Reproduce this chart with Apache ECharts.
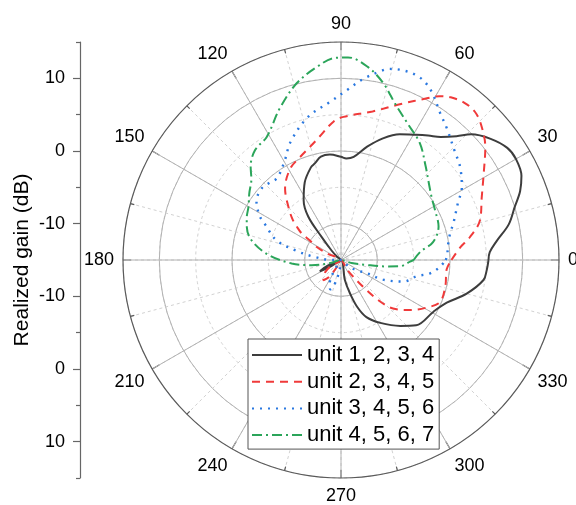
<!DOCTYPE html>
<html>
<head>
<meta charset="utf-8">
<script src="https://cdn.jsdelivr.net/npm/echarts@6/dist/echarts.min.js"></script>
<style>
html,body{margin:0;padding:0;background:#fff;}
#c{width:576px;height:505px;}
</style>
</head>
<body>
<div id="c"></div>
<script>
// ---- data (angle in degrees, realized gain in dB; values below -15 dB sit at the centre) ----
const seriesNames = ['unit 1, 2, 3, 4', 'unit 2, 3, 4, 5', 'unit 3, 4, 5, 6', 'unit 4, 5, 6, 7'];

const unit1234Angle = [0,3,7,12,17,21,25,30,34,39,44,47,51,55,59,65,71,77,83,87,90,96,101,105,108,115,122,127,130,135,140,150,170,195,203,208,212,220,250,275,281,285,289,294,302,312,319,331,338,345,352,356,360];
const unit1234Gain  = [5.3,5.5,6.6,8.6,10.0,11.4,12.4,12.8,12.6,11.5,9.9,8.3,6.8,5.9,5.1,4.1,2.7,1.0,-0.7,-1.0,-0.8,-0.4,-0.5,-1.2,-1.6,-3.2,-5.3,-7.5,-10.8,-13.2,-14.3,-15,-15,-15,-13,-11.7,-13.5,-15,-15,-15,-12.2,-10.3,-8.2,-6.4,-4.8,-2.8,-1.3,-0.4,0.7,2.9,4.8,5.1,5.3];

const unit2345Angle = [0,6,10,16,24,31,38,44,48,52,56,59,62,69,78,89,93,100,105,112,119,128,135,140,143,146,148,151,155,165,200,210,218,229,235,245,255,295,302,306,310,313,317,324,331,337,346,355,360];
const unit2345Gain  = [0.2,1.5,3.0,4.9,6.2,7.9,10.2,11.8,12.5,12.5,12.0,11.3,10.2,8.0,5.9,4.7,4.1,2.2,1.2,0.2,-0.6,-2.5,-4.8,-6.3,-7.4,-8.5,-10.0,-10.8,-12.8,-15,-15,-13.5,-12.2,-11.3,-12.2,-14.5,-15,-15,-13.5,-12.2,-9.8,-7.4,-5.2,-3.3,-1.5,-0.2,-0.2,-0.4,0.2];

const unit3456Angle = [0,2,9,14,18,22,26,31,38,44,51,56,62,67,73,76,78,83,88,94,103,113,120,128,133,138,145,148,152,155,163,168,173,180,190,225,238,245,250,255,262,270,310,320,327,333,335,341,348,351.5,356,360];
const unit3456Gain  = [-0.6,-0.4,-0.05,0.5,1.25,2.0,2.9,4.4,5.8,6.7,8.2,9.4,11.4,12.4,12.4,12.1,11.6,10.1,8.4,6.8,5.2,2.7,0.6,-0.7,-0.5,-0.3,-0.8,-1.4,-2.4,-3.5,-5.7,-8.5,-11.2,-13.8,-15,-15,-13,-11.3,-10.7,-11.5,-13.5,-15,-15,-13.5,-12.4,-11.0,-8.6,-5.9,-4.3,-2.6,-1.35,-0.6];

const unit4567Angle = [0,6,11,19,28,35,42,48,56,64,71,76.5,82,88,92,97,104,112,121,128,134,138,144,150,156,161,168,176,184,190,196,205,335,344,349,352,354,358.6,360];
const unit4567Gain  = [-5.0,-4.0,-2.1,-0.8,-0.35,0.2,1.2,2.4,4.4,5.9,7.8,10.0,11.8,12.9,12.8,11.8,10.1,7.5,4.8,4.2,2.9,1.6,0.6,-0.3,-0.8,-1.3,-2.5,-5.0,-8.2,-10.9,-13.5,-15,-15,-13.5,-11.4,-8.6,-6.8,-5.5,-5.0];

const angleLabelStep = 30;
const gainMin = -15, gainMax = 15;
const leftTickValues = [-25,-15,-5,5,15,25];       // mirrored distance from centre
const leftMinorTickValues = [-30,-20,-10,10,20,30];

// ---- chart ----
const FONT = '"Liberation Sans", Arial, sans-serif';
const CX = 341, CY = 260, R = 218;

function pairs(angles, gains){ return angles.map((a,i)=>[gains[i], a]); }

const seriesData = [
  pairs(unit1234Angle, unit1234Gain),
  pairs(unit2345Angle, unit2345Gain),
  pairs(unit3456Angle, unit3456Gain),
  pairs(unit4567Angle, unit4567Gain)
];
const styles = [
  {color:'#3d3d3d', width:2, type:'solid'},
  {color:'#f03a3a', width:2, type:[8,6]},
  {color:'#2a78e0', width:2.4, type:[2,6]},
  {color:'#2ba55a', width:2, type:[10,4,2,4]}
];

const chart = echarts.init(document.getElementById('c'), null, {renderer:'canvas'});
chart.setOption({
  backgroundColor:'#fff',
  animation:false,
  polar:[
    {center:[CX,CY], radius:R},
    {center:[CX,CY], radius:R}
  ],
  angleAxis:[
    {polarIndex:0, type:'value', min:0, max:360, interval:angleLabelStep/2, startAngle:0, clockwise:false,
     axisLine:{show:false}, axisTick:{show:false}, axisLabel:{show:false},
     splitLine:{show:true, lineStyle:{color:'#d2d2d2', width:1, type:[3,3]}}},
    {polarIndex:1, type:'value', min:0, max:360, interval:angleLabelStep, startAngle:0, clockwise:false,
     axisLine:{show:true, lineStyle:{color:'#5a5a5a', width:1.2}},
     axisTick:{show:true, inside:true, length:8, lineStyle:{color:'#5a5a5a', width:1.2}},
     minorTick:{show:true, splitNumber:2, length:4, lineStyle:{color:'#5a5a5a', width:1.2}},
     axisLabel:{show:true, margin:9, color:'#000', fontSize:18, fontFamily:FONT},
     splitLine:{show:true, lineStyle:{color:'#b2b2b2', width:1}}}
  ],
  radiusAxis:[
    {polarIndex:0, type:'value', min:gainMin, max:gainMax, interval:5,
     axisLine:{show:false}, axisTick:{show:false}, axisLabel:{show:false},
     splitLine:{show:true, lineStyle:{color:'#d2d2d2', width:1, type:[3,3]}}},
    {polarIndex:1, type:'value', min:gainMin, max:gainMax, splitNumber:3,
     axisLine:{show:false}, axisTick:{show:false, customValues:[-10,0,10]}, axisLabel:{show:false},
     splitLine:{show:true, lineStyle:{color:'#b2b2b2', width:1}}}
  ],
  grid:{left:80, top:CY-R, height:2*R, width:1, containLabel:false},
  xAxis:{type:'value', show:false},
  yAxis:[
    {type:'value', min:-30, max:30, position:'left',
     axisLine:{show:true, onZero:false, lineStyle:{color:'#666', width:1.2}},
     axisTick:{show:true, length:7, customValues:leftTickValues, lineStyle:{color:'#666', width:1.2}},
     axisLabel:{show:true, margin:15, customValues:leftTickValues, color:'#000', fontSize:18, fontFamily:FONT,
                formatter:v=>String(Math.abs(v)+gainMin)},
     splitLine:{show:false},
     name:'Realized gain (dB)', nameLocation:'middle', nameGap:47,
     nameTextStyle:{fontSize:21, color:'#000', fontFamily:FONT}},
    {type:'value', min:-30, max:30, position:'left',
     axisLine:{show:false},
     axisTick:{show:true, length:4, customValues:leftMinorTickValues, lineStyle:{color:'#666', width:1.2}},
     axisLabel:{show:false}, splitLine:{show:false}}
  ],
  legend:{
    orient:'vertical', left:248, top:339, itemWidth:50, itemHeight:22, itemGap:4.7,
    padding:[5,5,3,3], borderColor:'#555', borderWidth:1, backgroundColor:'#fff',
    itemStyle:{opacity:0},
    textStyle:{fontSize:22, color:'#000', fontFamily:FONT},
    data:seriesNames
  },
  series: seriesNames.map((n,i)=>({
    name:n, type:'line', coordinateSystem:'polar', polarIndex:1,
    data:seriesData[i], symbol:'none', smooth:0.35,
    lineStyle:styles[i], itemStyle:{color:styles[i].color}, z:3+i
  }))
});
</script>
</body>
</html>
